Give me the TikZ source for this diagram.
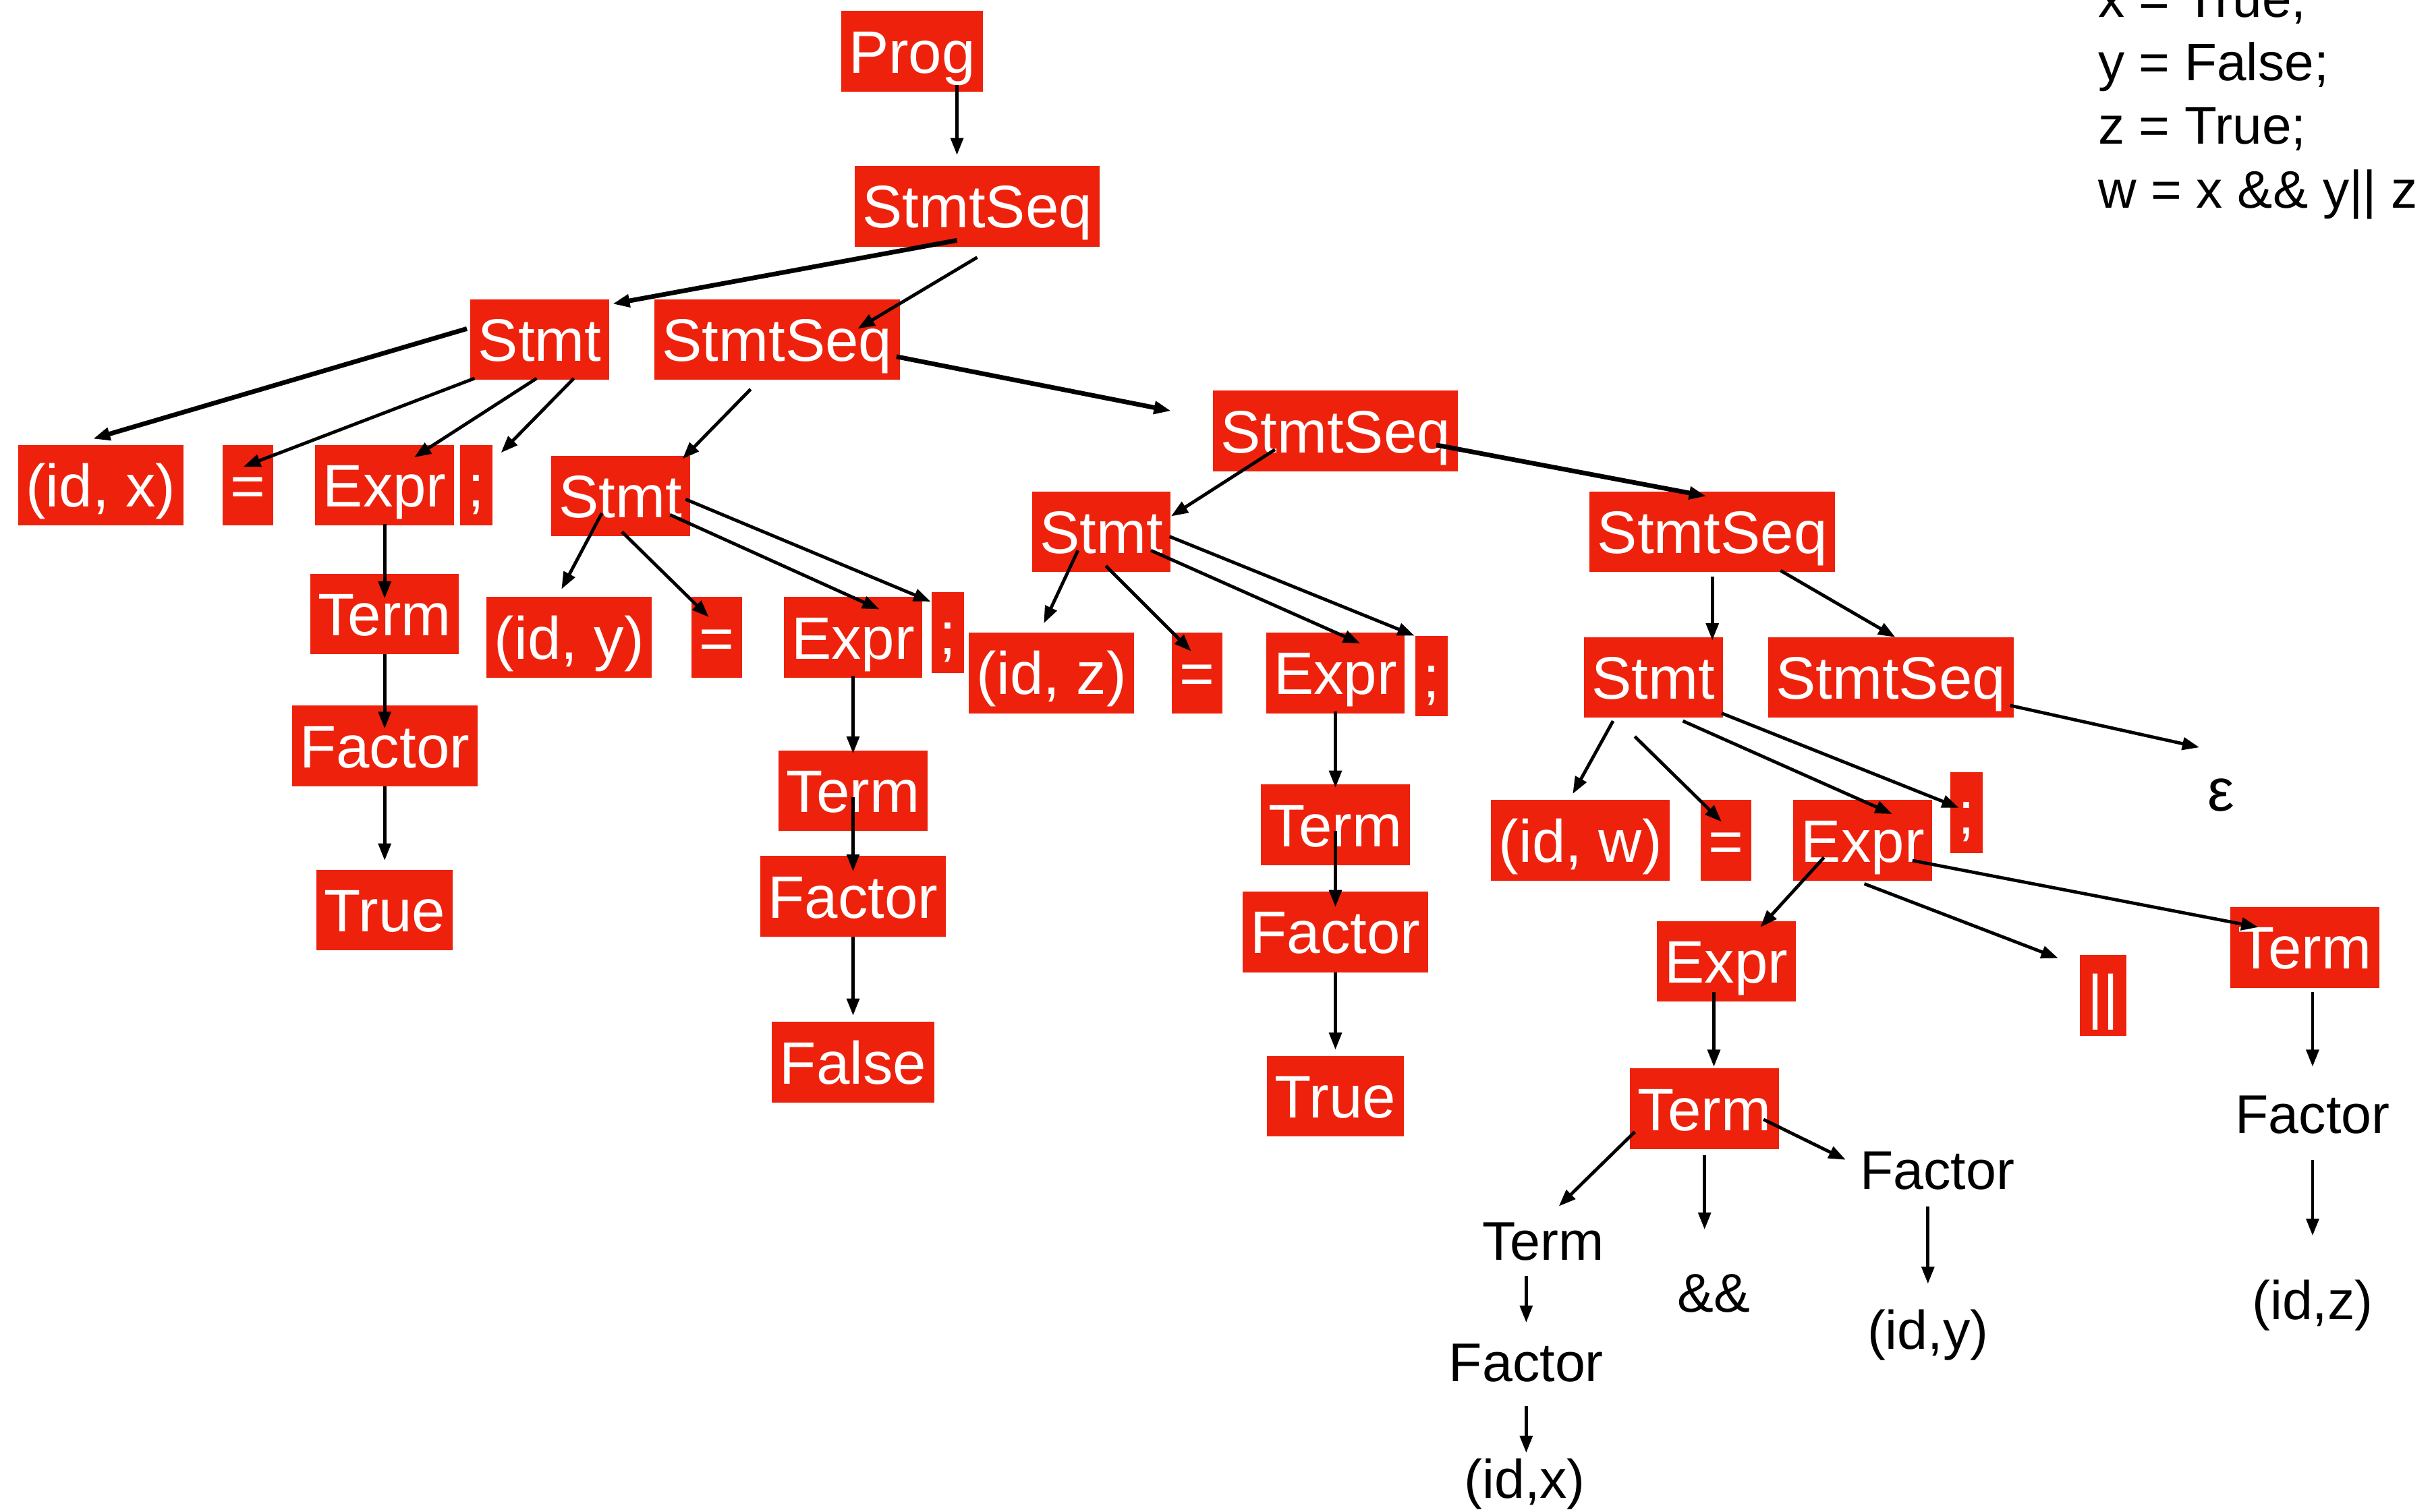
\documentclass[tikz,border=0pt]{standalone}
\usepackage{fontspec}
\setmainfont{Liberation Sans}
\usetikzlibrary{arrows.meta,calc}

\definecolor{keyred}{RGB}{238,34,12}
\newcommand{\boxfont}{\fontsize{11pt}{13pt}\selectfont}
\newcommand{\leaffont}{\fontsize{10pt}{12pt}\selectfont}
\newcommand{\codefont}{\fontsize{9.7pt}{11.7pt}\selectfont}

\tikzset{
  redbox/.style={fill=keyred, text=white, font=\boxfont, minimum height=5.2mm,
    inner xsep=0.5mm, inner ysep=0pt, text height=3.2mm, text depth=0.4mm},
  leaf/.style={font=\leaffont, inner sep=0pt},
  codeline/.style={font=\codefont, anchor=base west, inner sep=0pt},
  arr/.style={-{Triangle[length=1.1mm,width=0.8mm]}, line width=0.6pt},
  thickarr/.style={arr, line width=0.85pt},
}

\begin{document}
\begin{tikzpicture}[x=0.1mm, y=-0.1mm]
    \useasboundingbox (0,0) rectangle (1568,975);

    % The program being parsed
    \node[codeline] (code1) at (1352,11) {x = True;};
    \node[codeline] (code2) at (1352,52) {y = False;};
    \node[codeline] (code3) at (1352,93) {z = True;};
    \node[codeline] (code4) at (1352,134) {w = x \&\& y|| z};

    % Spine of the tree
    \node[redbox] (prog) at (588,33) {Prog};
    \node[redbox] (ss1) at (630,133) {StmtSeq};
    \node[redbox] (stmtA) at (348,219) {Stmt};
    \node[redbox] (ss2) at (501,219) {StmtSeq};
    \node[redbox] (ss3) at (861,278) {StmtSeq};
    \node[redbox] (ss4) at (1104,343) {StmtSeq};
    \node[redbox] (ss5) at (1219,437) {StmtSeq};
    \node (eps) at (1432,513) {\boxfont ε};

    % x = True;
    \node[redbox] (idx) at (65,313) {(id, x)};
    \node[redbox] (eqA) at (160,313) {=};
    \node[redbox] (exprA) at (248,313) {Expr};
    \node[redbox] (semiA) at (307,313) {;};
    \node[redbox] (termA) at (248,396) {Term};
    \node[redbox] (factA) at (248,481) {Factor};
    \node[redbox] (trueA) at (248,587) {True};

    % y = False;
    \node[redbox] (stmtB) at (400,320) {Stmt};
    \node[redbox] (idy) at (367,411) {(id, y)};
    \node[redbox] (eqB) at (462,411) {=};
    \node[redbox] (exprB) at (550,411) {Expr};
    \node[redbox] (semiB) at (611,408) {;};
    \node[redbox] (termB) at (550,510) {Term};
    \node[redbox] (factB) at (550,578) {Factor};
    \node[redbox] (falseB) at (550,685) {False};

    % z = True;
    \node[redbox] (stmtC) at (710,343) {Stmt};
    \node[redbox] (idz) at (678,434) {(id, z)};
    \node[redbox] (eqC) at (772,434) {=};
    \node[redbox] (exprC) at (861,434) {Expr};
    \node[redbox] (semiC) at (923,436) {;};
    \node[redbox] (termC) at (861,532) {Term};
    \node[redbox] (factC) at (861,601) {Factor};
    \node[redbox] (trueC) at (861,707) {True};

    % w = x && y || z;
    \node[redbox] (stmtD) at (1066,437) {Stmt};
    \node[redbox] (idw) at (1019,542) {(id, w)};
    \node[redbox] (eqD) at (1113,542) {=};
    \node[redbox] (exprD) at (1201,542) {Expr};
    \node[redbox] (semiD) at (1268,524) {;};
    \node[redbox] (exprE) at (1113,620) {Expr};
    \node[redbox] (orD) at (1356,642) {||};
    \node[redbox] (termD) at (1486,611) {Term};
    \node[redbox] (termE) at (1099,715) {Term};
    \node[leaf] (factD) at (1491,719) {Factor};
    \node[leaf] (idzD) at (1491,842) {(id,z)};
    \node[leaf] (factE) at (1249,755) {Factor};
    \node[leaf] (idyE) at (1243,861) {(id,y)};
    \node[leaf] (termF) at (995,801) {Term};
    \node[leaf] (andE) at (1105,834) {\&\&};
    \node[leaf] (factF) at (984,879) {Factor};
    \node[leaf] (idxF) at (983,957) {(id,x)};

    % Arrows of the spine
    \draw[arr] ($(prog)+(29,22)$) -- ($(ss1)+(-13,-33)$);
    \draw[thickarr] ($(ss1)+(-13,22)$) -- ($(stmtA)+(47,-23)$);
    \draw[arr] ($(ss1)+(0,33)$) -- ($(ss2)+(52,-7)$);
    \draw[thickarr] ($(ss2)+(77,11)$) -- ($(ss3)+(-106,-13)$);
    \draw[arr] ($(ss2)+(-17,32)$) -- ($(stmtB)+(40,-24)$);
    \draw[arr] ($(ss3)+(-39,12)$) -- ($(stmtC)+(45,-10)$);
    \draw[thickarr] ($(ss3)+(65,9)$) -- ($(ss4)+(-4,-23)$);
    \draw[arr] ($(ss4)+(0,29)$) -- ($(stmtD)+(38,-24)$);
    \draw[arr] ($(ss4)+(44,25)$) -- ($(ss5)+(3,-26)$);
    \draw[arr] ($(ss5)+(77,18)$) -- ($(eps)+(-14,-31)$);

    % Arrows for x = True;
    \draw[thickarr] ($(stmtA)+(-47,-7)$) -- ($(idx)+(-5,-30)$);
    \draw[arr] ($(stmtA)+(-42,25)$) -- ($(eqA)+(-3,-12)$);
    \draw[arr] ($(stmtA)+(-2,25)$) -- ($(exprA)+(19,-18)$);
    \draw[arr] ($(stmtA)+(22,25)$) -- ($(semiA)+(16,-21)$);
    \draw[arr] ($(exprA)+(0,25)$) -- ($(termA)+(0,-10)$);
    \draw[arr] ($(termA)+(0,26)$) -- ($(factA)+(0,-11)$);
    \draw[arr] ($(factA)+(0,26)$) -- ($(trueA)+(0,-32)$);

    % Arrows for y = False;
    \draw[arr] ($(stmtB)+(-12,11)$) -- ($(idy)+(-5,-31)$);
    \draw[arr] ($(stmtB)+(1,23)$) -- ($(eqB)+(-5,-13)$);
    \draw[arr] ($(stmtB)+(32,12)$) -- ($(exprB)+(17,-18)$);
    \draw[arr] ($(stmtB)+(42,2)$) -- ($(semiB)+(-11,-20)$);
    \draw[arr] ($(exprB)+(0,25)$) -- ($(termB)+(0,-24)$);
    \draw[arr] ($(termB)+(0,4)$) -- ($(factB)+(0,-16)$);
    \draw[arr] ($(factB)+(0,26)$) -- ($(falseB)+(0,-30)$);

    % Arrows for z = True;
    \draw[arr] ($(stmtC)+(-15,12)$) -- ($(idz)+(-5,-32)$);
    \draw[arr] ($(stmtC)+(3,22)$) -- ($(eqC)+(-4,-14)$);
    \draw[arr] ($(stmtC)+(32,12)$) -- ($(exprC)+(16,-19)$);
    \draw[arr] ($(stmtC)+(44,3)$) -- ($(semiC)+(-11,-26)$);
    \draw[arr] ($(exprC)+(0,25)$) -- ($(termC)+(0,-24)$);
    \draw[arr] ($(termC)+(0,4)$) -- ($(factC)+(0,-16)$);
    \draw[arr] ($(factC)+(0,26)$) -- ($(trueC)+(0,-30)$);

    % Arrows for w = x && y || z;
    \draw[arr] ($(stmtD)+(-26,28)$) -- ($(idw)+(-5,-30)$);
    \draw[arr] ($(stmtD)+(-12,38)$) -- ($(eqD)+(-3,-12)$);
    \draw[arr] ($(stmtD)+(19,28)$) -- ($(exprD)+(19,-17)$);
    \draw[arr] ($(stmtD)+(44,23)$) -- ($(semiD)+(-5,-3)$);
    \draw[arr] ($(exprD)+(-25,11)$) -- ($(exprE)+(22,-22)$);
    \draw[arr] ($(exprD)+(1,28)$) -- ($(orD)+(-29,-24)$);
    \draw[arr] ($(exprD)+(32,13)$) -- ($(termD)+(-30,-13)$);
    \draw[arr] ($(exprE)+(-8,20)$) -- ($(termE)+(6,-27)$);
    \draw[arr] ($(termE)+(-45,15)$) -- ($(termF)+(10,-23)$);
    \draw[arr] ($(termE)+(0,30)$) -- ($(andE)+(-6,-41)$);
    \draw[arr] ($(termE)+(38,7)$) -- ($(factE)+(-59,-7)$);
    \draw[arr] ($(factE)+(-6,23)$) -- ($(idyE)+(0,-33)$);
    \draw[arr] ($(termF)+(-11,22)$) -- ($(factF)+(0,-26)$);
    \draw[arr] ($(factF)+(0,28)$) -- ($(idxF)+(1,-20)$);
    \draw[arr] ($(termD)+(5,29)$) -- ($(factD)+(0,-31)$);
    \draw[arr] ($(factD)+(0,29)$) -- ($(idzD)+(0,-45)$);

\end{tikzpicture}
\end{document}
